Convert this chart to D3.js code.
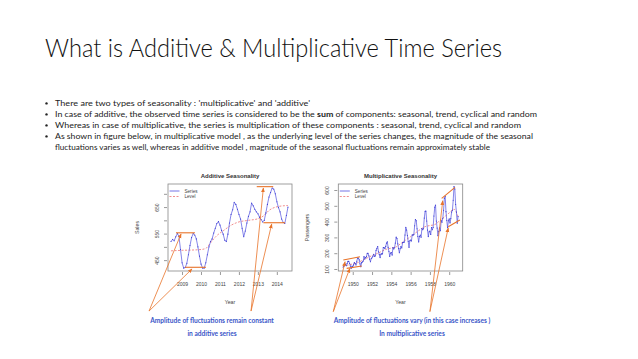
<!DOCTYPE html>
<html>
<head>
<meta charset="utf-8">
<script src="https://d3js.org/d3.v7.min.js"></script>
<style>
  body { margin: 0; background: #fff; }
  svg { display: block; }
</style>
</head>
<body>
<svg id="slide" width="638" height="359"></svg>
<script>
// slide text
const titleText = "What is Additive & Multiplicative Time Series";
const bullets = [
  ["There are two types of seasonality : 'multiplicative' and 'additive'"],
  ["In case of additive, the observed time series is considered to be the ", "sum", " of components: seasonal, trend, cyclical and random"],
  ["Whereas in case of multiplicative, the series is multiplication of these components : seasonal, trend, cyclical and random"],
  ["As shown in figure below, in multiplicative model , as the underlying level of the series changes, the magnitude of the seasonal"],
  ["fluctuations varies as well, whereas in additive model , magnitude of the seasonal fluctuations remain approximately stable"]
];
const bulletWidths = [255, 482, 466, 478, 435];

// additive chart: monthly sales starting mid 2008
const addStart = 2008.42;
const addSales = [520, 528, 523, 538, 550, 540, 490,
  440, 420, 422, 438, 470, 505, 535, 550, 545, 530, 500, 465,
  435, 420, 420, 440, 470, 500, 520, 530, 552, 570, 588, 595,
  582, 562, 548, 525, 520, 548, 590, 622, 640, 668, 660, 642,
  622, 605, 570, 538, 560, 590, 615, 632, 665, 655, 642, 632,
  625, 612, 603, 594, 600, 628, 660, 688, 705, 722, 718, 700,
  670, 648, 632, 605, 592, 588, 618, 650];
const addLevelTime = [2008.42, 2009.0, 2009.5, 2010.0, 2010.25, 2010.5, 2010.8, 2011.2, 2011.6, 2012.0, 2012.5, 2013.0, 2013.3, 2013.6, 2014.0, 2014.58];
const addLevel = [485, 487, 488, 490, 494, 515, 540, 562, 582, 594, 600, 606, 617, 638, 651, 656];
const addYears = [2009, 2010, 2011, 2012, 2013, 2014];
const addTicks = [450, 500, 550, 600, 650, 700];
const addTickLabels = [450, 550, 650];

// multiplicative chart: monthly air passengers 1949-1960
const mulStart = 1949.0;
const passengers = [
  112, 118, 132, 129, 121, 135, 148, 148, 136, 119, 104, 118,
  115, 126, 141, 135, 125, 149, 170, 170, 158, 133, 114, 140,
  145, 150, 178, 163, 172, 178, 199, 199, 184, 162, 146, 166,
  171, 180, 193, 181, 183, 218, 230, 242, 209, 191, 172, 194,
  196, 196, 236, 235, 229, 243, 264, 272, 237, 211, 180, 201,
  204, 188, 235, 227, 234, 264, 302, 293, 259, 229, 203, 229,
  242, 233, 267, 269, 270, 315, 364, 347, 312, 274, 237, 278,
  284, 277, 317, 313, 318, 374, 413, 405, 355, 306, 271, 306,
  315, 301, 356, 348, 355, 422, 465, 467, 404, 347, 305, 336,
  340, 318, 362, 348, 363, 435, 491, 505, 404, 359, 310, 337,
  360, 342, 406, 396, 420, 472, 548, 559, 463, 407, 362, 405,
  417, 391, 419, 461, 472, 535, 622, 606, 508, 461, 390, 432];
const mulLevelTime = [1949.0, 1949.5, 1950.0, 1950.5, 1951.0, 1951.5, 1952.0, 1952.5, 1953.0, 1953.5, 1954.0, 1954.5, 1955.0, 1955.5, 1956.0, 1956.5, 1957.0, 1957.5, 1958.0, 1958.5, 1959.0, 1959.5, 1960.0, 1960.5, 1960.92];
const mulLevel = [120, 125, 132, 140, 155, 170, 185, 197, 212, 225, 232, 240, 262, 284, 305, 328, 350, 368, 375, 381, 405, 430, 455, 478, 432];
const mulYears = [1950, 1952, 1954, 1956, 1958, 1960];
const mulTicks = [100, 200, 300, 400, 500, 600];

// orange annotations, in data units of each chart
const addMarks = [[[2008.68, 553], [2009.68, 553]], [[2009.16, 423], [2010.26, 423]],
                  [[2012.94, 727], [2013.81, 727]], [[2013.29, 591], [2014.43, 591]]];
const addArrows = [[[2007.26, 258], [2008.95, 549]], [[2007.26, 258], [2009.53, 417]],
                   [[2012.64, 258], [2013.29, 722]], [[2012.64, 258], [2013.73, 586]]];
const mulMarks = [[[1949.02, 157], [1950.75, 178]], [[1949.37, 104], [1950.93, 119]],
                  [[1959.22, 547], [1960.6, 617]], [[1959.9, 368], [1961.1, 410]]];
const mulArrows = [[[1947.98, -170], [1949.2, 146]], [[1947.98, -170], [1949.7, 104]],
                   [[1958.0, -170], [1959.33, 532]], [[1958.0, -170], [1959.9, 360]]];

const orange = "#e8742a";
const blueText = "#3a56c8";
const svg = d3.select("#slide");

const defs = svg.append("defs");
defs.append("marker").attr("id", "arr")
  .attr("viewBox", "0 0 10 10").attr("refX", 9).attr("refY", 5)
  .attr("markerWidth", 6).attr("markerHeight", 6).attr("orient", "auto")
  .append("path").attr("d", "M0,1 L10,5 L0,9 z").attr("fill", orange);

// title
svg.append("text").attr("x", 45).attr("y", 57)
  .attr("font-family", "Lato, 'Open Sans', sans-serif").attr("font-weight", 300)
  .attr("font-size", 25).attr("fill", "#111")
  .attr("textLength", 457).attr("lengthAdjust", "spacingAndGlyphs")
  .text(titleText);

// bullets
const bulletY = [106, 117, 128, 139, 150];
bullets.forEach((parts, i) => {
  if (i < 4) {
    svg.append("circle").attr("cx", 46.5).attr("cy", bulletY[i] - 2.6).attr("r", 1.2).attr("fill", "#222");
  }
  const t = svg.append("text").attr("x", 55).attr("y", bulletY[i])
    .attr("font-family", "Lato, 'Open Sans', sans-serif").attr("font-size", 8.2).attr("fill", "#222")
    .attr("textLength", bulletWidths[i]).attr("lengthAdjust", "spacingAndGlyphs");
  parts.forEach((p, j) => {
    t.append("tspan").attr("font-weight", j === 1 ? 700 : 400).text(p);
  });
});

function chart(opt) {
  const g = svg.append("g");
  const x = d3.scaleLinear().domain(opt.xDomain).range([opt.left, opt.right]);
  const y = d3.scaleLinear().domain(opt.yDomain).range([opt.bottom, opt.top]);
  const font = "'Liberation Sans', Arial, sans-serif";

  g.append("text").attr("x", (opt.left + opt.right) / 2).attr("y", opt.top - 6)
    .attr("text-anchor", "middle").attr("font-family", font).attr("font-weight", 700)
    .attr("font-size", 6).attr("fill", "#333").text(opt.title);

  // x axis
  const xa = g.append("g").attr("transform", `translate(0,${opt.bottom + 1})`)
    .call(d3.axisBottom(x).tickValues(opt.years).tickSize(3).tickFormat(d3.format("d")));
  xa.select(".domain").remove();
  xa.selectAll("line").attr("stroke", "#555").attr("stroke-width", 0.6);
  xa.selectAll("text").attr("font-family", font).attr("font-size", 5).attr("fill", "#444").attr("dy", "1.5em");

  // y axis with rotated labels
  const ya = g.append("g").attr("transform", `translate(${opt.left - 1},0)`)
    .call(d3.axisLeft(y).tickValues(opt.yTicks).tickSize(3)
      .tickFormat(d => opt.yLabels.includes(d) ? d : ""));
  ya.select(".domain").remove();
  ya.selectAll("line").attr("stroke", "#555").attr("stroke-width", 0.6);
  ya.selectAll("text").attr("font-family", font).attr("font-size", 5).attr("fill", "#444")
    .attr("text-anchor", "middle").attr("x", null).attr("dy", null)
    .attr("transform", "translate(-10,0) rotate(-90)").attr("y", 1.7);

  g.append("rect").attr("x", opt.left).attr("y", opt.top)
    .attr("width", opt.right - opt.left).attr("height", opt.bottom - opt.top)
    .attr("fill", "none").attr("stroke", "#888").attr("stroke-width", 0.8);

  g.append("text").attr("x", (opt.left + opt.right) / 2).attr("y", opt.bottom + 33)
    .attr("text-anchor", "middle").attr("font-family", font).attr("font-size", 5.2)
    .attr("fill", "#444").text("Year");
  g.append("text").attr("transform", `translate(${opt.left - 29},${(opt.top + opt.bottom) / 2}) rotate(-90)`)
    .attr("text-anchor", "middle").attr("font-family", font).attr("font-size", 5.2)
    .attr("fill", "#444").text(opt.yTitle);

  const line = d3.line().x(d => x(d[0])).y(d => y(d[1]));
  const series = opt.values.map((v, i) => [opt.start + i / 12, v]);
  const level = opt.levelTime.map((t, i) => [t, opt.level[i]]);

  g.append("path").datum(level).attr("d", line.curve(d3.curveMonotoneX))
    .attr("fill", "none").attr("stroke", "#ee7070").attr("stroke-width", 0.8)
    .attr("stroke-dasharray", "2,1.5");
  g.append("path").datum(series).attr("d", d3.line().x(d => x(d[0])).y(d => y(d[1])))
    .attr("fill", "none").attr("stroke", "#5050e0").attr("stroke-width", 0.7);
  g.selectAll(".pt").data(series).enter().append("circle")
    .attr("cx", d => x(d[0])).attr("cy", d => y(d[1])).attr("r", 0.55).attr("fill", "#3434d0");

  // legend
  const lx = opt.left + 1.5, ly = opt.top + 7;
  g.append("line").attr("x1", lx).attr("x2", lx + 10).attr("y1", ly).attr("y2", ly)
    .attr("stroke", "#5050e0").attr("stroke-width", 0.8);
  g.append("line").attr("x1", lx).attr("x2", lx + 10).attr("y1", ly + 5.5).attr("y2", ly + 5.5)
    .attr("stroke", "#ee7070").attr("stroke-width", 0.8).attr("stroke-dasharray", "2,1.5");
  g.append("text").attr("x", lx + 15).attr("y", ly + 1.6).attr("font-family", font)
    .attr("font-size", 4.6).attr("fill", "#444").text("Series");
  g.append("text").attr("x", lx + 15).attr("y", ly + 7.1).attr("font-family", font)
    .attr("font-size", 4.6).attr("fill", "#444").text("Level");

  // annotations
  opt.marks.forEach(m => {
    g.append("line").attr("x1", x(m[0][0])).attr("y1", y(m[0][1]))
      .attr("x2", x(m[1][0])).attr("y2", y(m[1][1]))
      .attr("stroke", orange).attr("stroke-width", 1.1);
  });
  opt.arrows.forEach(a => {
    g.append("line").attr("x1", x(a[0][0])).attr("y1", y(a[0][1]))
      .attr("x2", x(a[1][0])).attr("y2", y(a[1][1]))
      .attr("stroke", orange).attr("stroke-width", 0.8).attr("marker-end", "url(#arr)");
  });
}

chart({
  left: 168, right: 292, top: 184, bottom: 271,
  xDomain: [2008.26, 2014.8], yDomain: [409, 737],
  title: "Additive Seasonality", yTitle: "Sales",
  years: addYears, yTicks: addTicks, yLabels: addTickLabels,
  start: addStart, values: addSales, levelTime: addLevelTime, level: addLevel,
  marks: addMarks, arrows: addArrows
});
chart({
  left: 338.3, right: 462.7, top: 184, bottom: 271,
  xDomain: [1948.5, 1961.4], yDomain: [87.3, 638],
  title: "Multiplicative Seasonality", yTitle: "Passengers",
  years: mulYears, yTicks: mulTicks, yLabels: mulTicks,
  start: mulStart, values: passengers, levelTime: mulLevelTime, level: mulLevel,
  marks: mulMarks, arrows: mulArrows
});

// captions
const captions = [
  [212, "Amplitude of fluctuations remain constant", "in additive series"],
  [412, "Amplitude of fluctuations vary (in this case increases )", "In multiplicative series"]
];
captions.forEach(c => {
  [c[1], c[2]].forEach((s, i) => {
    svg.append("text").attr("x", c[0]).attr("y", 323 + i * 13)
      .attr("text-anchor", "middle").attr("font-family", "Lato, 'Open Sans', sans-serif")
      .attr("font-size", 6.6).attr("font-weight", 700).attr("fill", blueText).text(s);
  });
});
</script>
</body>
</html>
